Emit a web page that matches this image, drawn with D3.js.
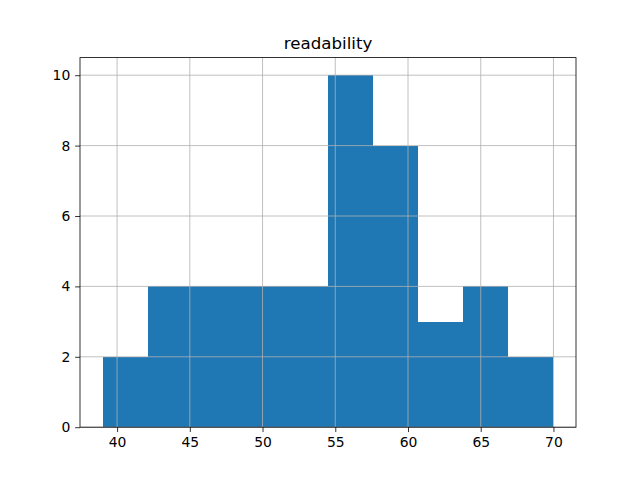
<!DOCTYPE html>
<html>
<head>
<meta charset="utf-8">
<script src="https://cdn.jsdelivr.net/npm/d3@7"></script>
<style>
  html, body { margin: 0; padding: 0; background: #fff; }
  svg { display: block; }
</style>
</head>
<body>
<script>
const title = "readability";
const binStarts = [39.0, 42.1, 45.2, 48.3, 51.4, 54.5, 57.6, 60.7, 63.8, 66.9];
const binEnds   = [42.1, 45.2, 48.3, 51.4, 54.5, 57.6, 60.7, 63.8, 66.9, 70.0];
const counts    = [2, 4, 4, 4, 4, 10, 8, 3, 4, 2];
const xTicks = [40, 45, 50, 55, 60, 65, 70];
const yTicks = [0, 2, 4, 6, 8, 10];

(function () {
const W = 640, H = 480;
const mLeft = 80, mRight = 576, mTop = 57.6, mBottom = 427.2;

const svg = d3.select("body").append("svg").attr("width", W).attr("height", H);

const xMin = d3.min(binStarts), xMax = d3.max(binEnds);
const pad = (xMax - xMin) * 0.05;
const x = d3.scaleLinear().domain([xMin - pad, xMax + pad]).range([mLeft, mRight]);
const y = d3.scaleLinear().domain([0, d3.max(counts) * 1.05]).range([mBottom, mTop]);

const bins = counts.map((c, i) => ({ x0: binStarts[i], x1: binEnds[i], c }));

svg.append("g").attr("shape-rendering", "crispEdges").selectAll("rect").data(bins).join("rect")
  .attr("x", d => x(d.x0))
  .attr("width", d => x(d.x1) - x(d.x0))
  .attr("y", d => y(d.c))
  .attr("height", d => y(0) - y(d.c))
  .attr("fill", "#1f77b4");

// grid
const grid = svg.append("g").attr("stroke", "#b0b0b0").attr("stroke-width", 0.8);
grid.selectAll("line.vx").data(xTicks).join("line").attr("class", "vx")
  .attr("x1", d => x(d)).attr("x2", d => x(d)).attr("y1", mTop).attr("y2", mBottom);
grid.selectAll("line.hy").data(yTicks).join("line").attr("class", "hy")
  .attr("y1", d => y(d)).attr("y2", d => y(d)).attr("x1", mLeft).attr("x2", mRight);

// axes
const fontFam = "'DejaVu Sans', sans-serif";
const xAxis = svg.append("g").attr("transform", `translate(0,${mBottom})`)
  .call(d3.axisBottom(x).tickValues(xTicks).tickSize(4.86).tickPadding(4.86).tickFormat(d3.format("d")));
const yAxis = svg.append("g").attr("transform", `translate(${mLeft},0)`)
  .call(d3.axisLeft(y).tickValues(yTicks).tickSize(4.86).tickPadding(4.86).tickFormat(d3.format("d")));
[xAxis, yAxis].forEach(a => {
  a.select(".domain").remove();
  a.selectAll("line").attr("stroke", "#000").attr("stroke-width", 0.8);
  a.selectAll("text").attr("font-family", fontFam).attr("font-size", 13.9).attr("fill", "#000");
});

// frame
svg.append("rect").attr("x", mLeft).attr("y", mTop).attr("width", mRight - mLeft).attr("height", mBottom - mTop)
  .attr("fill", "none").attr("stroke", "#000").attr("stroke-width", 0.8);

svg.append("text").attr("x", (mLeft + mRight) / 2).attr("y", mTop - 8.3)
  .attr("text-anchor", "middle").attr("font-family", fontFam).attr("font-size", 16.67)
  .attr("fill", "#000").text(title);
})();
</script>
</body>
</html>
